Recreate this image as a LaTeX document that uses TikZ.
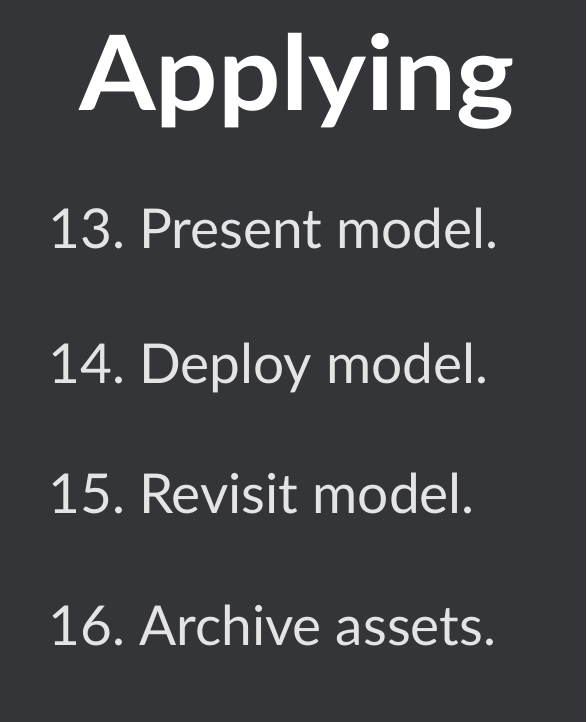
\documentclass[tikz,border=0pt]{standalone}
\usepackage{fontspec}
\setmainfont{Lato}
\newfontfamily\itemfont{Lato}
\usepackage{xcolor}
\usetikzlibrary{positioning}
\definecolor{slidebg}{HTML}{343538}
\definecolor{itemfg}{HTML}{E4E4E4}
\frenchspacing

\begin{document}
\begin{tikzpicture}[
  x=1pt, y=-1pt,
  title/.style={anchor=base, text=white, inner sep=0pt, xscale=1.06, font=\fontsize{104}{110}\selectfont\bfseries},
  listitem/.style={anchor=base west, text=itemfg, inner sep=0pt, font=\itemfont\fontsize{55}{60}\selectfont}
]
% Background
\fill[slidebg] (0,0) rectangle (586,722);
\useasboundingbox (0,0) rectangle (586,722);

% Title
\node[title] (heading) at (297,111) {Applying};

% Steps
\node[listitem] (present) at (48,248) {13. Present model.};
\node[listitem] (deploy) at (48,383) {14. Deploy model.};
\node[listitem] (revisit) at (48,513) {15. Revisit model.};
\node[listitem] (archive) at (48,645) {16. Archive assets.};

\end{tikzpicture}
\end{document}
